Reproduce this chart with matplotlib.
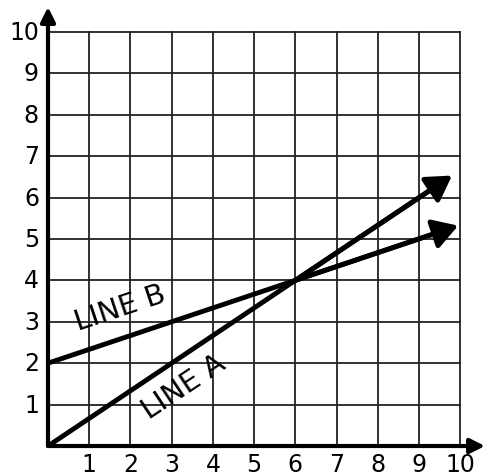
import matplotlib
matplotlib.use("Agg")
import matplotlib.pyplot as plt

ticks = [1, 2, 3, 4, 5, 6, 7, 8, 9, 10]
tick_labels = ["1", "2", "3", "4", "5", "6", "7", "8", "9", "10"]
line_a_x = [0, 6, 9.8]
line_a_y = [0, 4, 6.53]
line_b_x = [0, 6, 9.95]
line_b_y = [2, 4, 5.32]
label_a = "LINE A"
label_b = "LINE B"

fig = plt.figure(figsize=(4.9, 4.77), dpi=100)
ax = fig.add_axes([48/490, 30/477, 437/490, 439/477])
ax.set_xlim(0, 10.6)
ax.set_ylim(0, 10.6)
for s in ax.spines.values():
    s.set_visible(False)
ax.set_xticks([]); ax.set_yticks([])

# grid
for t in ticks:
    ax.plot([t, t], [0, 10], color='#222222', lw=1.3, zorder=1)
    ax.plot([0, 10], [t, t], color='#222222', lw=1.3, zorder=1)

# axes with arrows
ax.annotate('', xy=(10.6, 0), xytext=(0, 0),
            arrowprops=dict(arrowstyle='-|>', lw=3, color='k', mutation_scale=22, shrinkA=0, shrinkB=0),
            annotation_clip=False, zorder=3)
ax.annotate('', xy=(0, 10.6), xytext=(0, 0),
            arrowprops=dict(arrowstyle='-|>', lw=3, color='k', mutation_scale=22, shrinkA=0, shrinkB=0),
            annotation_clip=False, zorder=3)

# tick labels
for t, lab in zip(ticks, tick_labels):
    ax.text(t, -0.15, lab, ha='center', va='top', fontsize=17, color='k')
    ax.text(-0.22, t, lab, ha='right', va='center', fontsize=17, color='k')

# lines
for xs, ys in [(line_a_x, line_a_y), (line_b_x, line_b_y)]:
    ax.plot(xs[:-1] + [xs[-1] - 0.3], ys[:-1] + [ys[-1] - 0.3 * (ys[-1] - ys[-2]) / (xs[-1] - xs[-2])],
            color='k', lw=3.5, solid_capstyle='butt', zorder=4)
    ax.annotate('', xy=(xs[-1], ys[-1]), xytext=(xs[-2], ys[-2]),
                arrowprops=dict(arrowstyle='-|>,head_length=0.5,head_width=0.3', lw=3.5, color='k',
                                mutation_scale=30, shrinkA=0, shrinkB=0),
                annotation_clip=False, zorder=4)

ax.text(1.75, 3.35, label_b, rotation=18.4, ha='center', va='center', fontsize=21, zorder=5)
ax.text(3.3, 1.45, label_a, rotation=33.7, ha='center', va='center', fontsize=21, zorder=5)

fig.savefig("out.png", dpi=100)
